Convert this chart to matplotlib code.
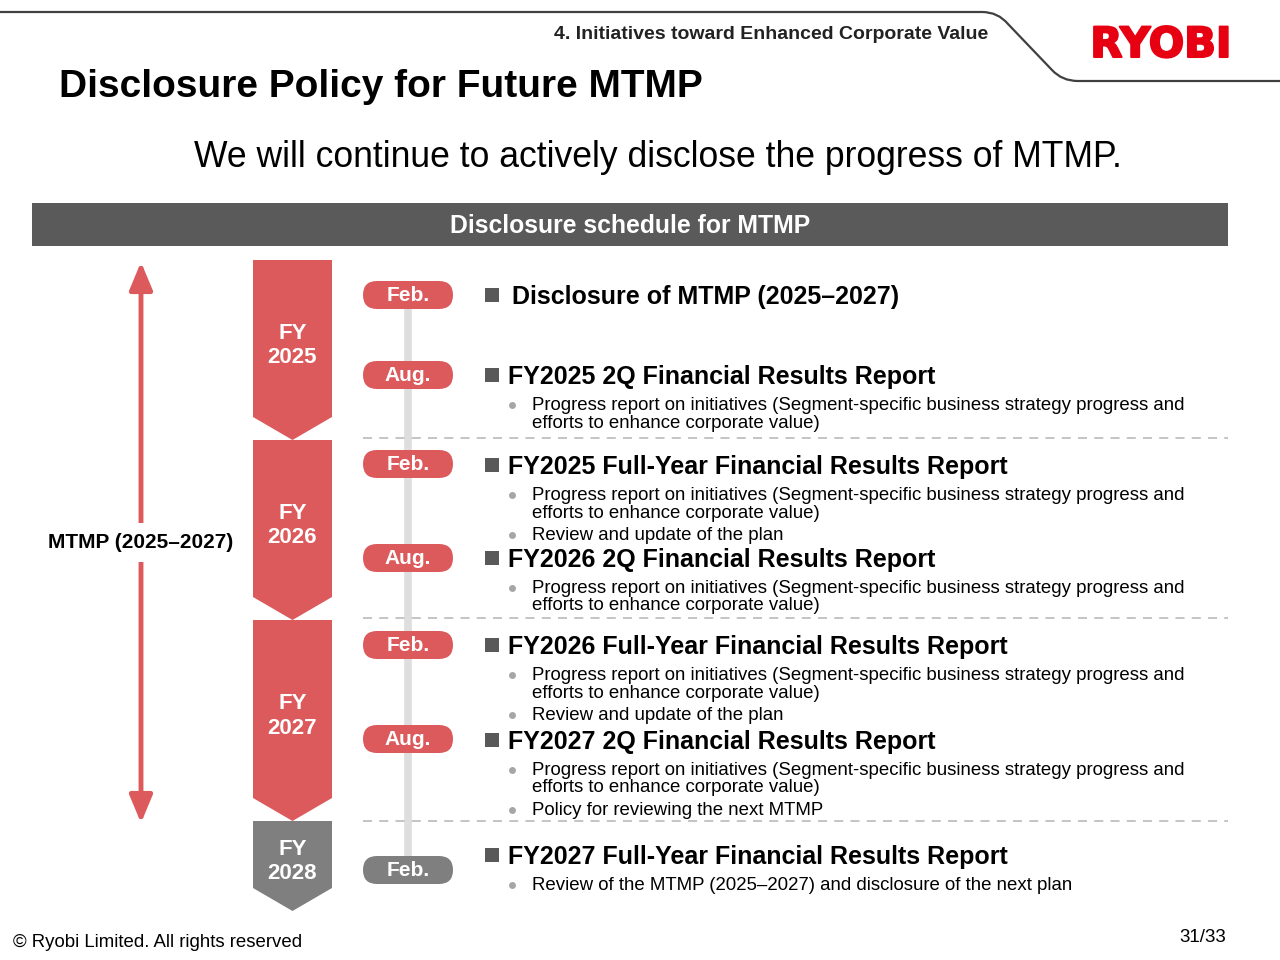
import matplotlib
matplotlib.use('Agg')
import matplotlib.pyplot as plt
import matplotlib.patheffects as pe
from matplotlib.patches import Polygon, FancyBboxPatch, Rectangle, FancyArrowPatch, PathPatch
from matplotlib.path import Path

plt.rcParams['font.family'] = ['Liberation Sans', 'DejaVu Sans']

# ---- slide content ----
section_label = '4. Initiatives toward Enhanced Corporate Value'
title = 'Disclosure Policy for Future MTMP'
subtitle = 'We will continue to actively disclose the progress of MTMP.'
bar_title = 'Disclosure schedule for MTMP'
plan_label = 'MTMP (2025\u20132027)'

fiscal_years = ['FY\n2025', 'FY\n2026', 'FY\n2027', 'FY\n2028']
in_plan = [True, True, True, False]

months = ['Feb.', 'Aug.', 'Feb.', 'Aug.', 'Feb.', 'Aug.', 'Feb.']
headings = [
    'Disclosure of MTMP (2025\u20132027)',
    'FY2025 2Q Financial Results Report',
    'FY2025 Full-Year Financial Results Report',
    'FY2026 2Q Financial Results Report',
    'FY2026 Full-Year Financial Results Report',
    'FY2027 2Q Financial Results Report',
    'FY2027 Full-Year Financial Results Report',
]
progress = ('Progress report on initiatives (Segment-specific business strategy progress and\n'
            'efforts to enhance corporate value)')
bullets = [
    [],
    [progress],
    [progress, 'Review and update of the plan'],
    [progress],
    [progress, 'Review and update of the plan'],
    [progress, 'Policy for reviewing the next MTMP'],
    ['Review of the MTMP (2025\u20132027) and disclosure of the next plan'],
]
footer = '\u00a9 Ryobi Limited. All rights reserved'
page = '31/33'

# ---- layout (pixels, y downwards) ----
RED = '#dc5a5c'
GREY = '#7f7f7f'
DARK = '#595959'
block_edges = [260, 440, 620, 821, 911]
pill_y = [295, 375, 464, 558, 645, 739, 870]
head_y = [295, 375, 465, 558, 645, 740, 855]
divider_y = [438, 618, 821]

fig = plt.figure(figsize=(12.8, 9.6), dpi=100)
ax = fig.add_axes([0, 0, 1, 1])
ax.set_xlim(0, 1280)
ax.set_ylim(960, 0)
ax.axis('off')

# top frame line
verts = [(0, 12), (982, 12), (998, 12), (1008, 24), (1052, 70), (1062, 81), (1078, 81), (1280, 81)]
codes = [Path.MOVETO, Path.LINETO, Path.CURVE3, Path.CURVE3, Path.LINETO, Path.CURVE3, Path.CURVE3, Path.LINETO]
ax.add_patch(PathPatch(Path(verts, codes), fill=False, edgecolor='#404040', lw=1.6))

ax.text(988, 39, section_label, ha='right', va='baseline', fontsize=14, fontweight='bold', color='#222222')
ax.text(1161, 57, 'RYOBI', ha='center', va='baseline', fontsize=30, fontweight='bold',
        color='#e60012', family=['DejaVu Sans'],
        path_effects=[pe.withStroke(linewidth=1.5, foreground='#e60012')])
ax.text(59, 97, title, ha='left', va='baseline', fontsize=28, fontweight='bold', color='black')
ax.text(658, 167, subtitle, ha='center', va='baseline', fontsize=25.6, color='black')

# schedule header bar
ax.add_patch(Rectangle((32, 203), 1196, 43, facecolor='#5a5a5a', edgecolor='none'))
ax.text(630, 233, bar_title, ha='center', va='baseline', fontsize=17.8, fontweight='bold', color='white')

# MTMP span arrow
ax.add_patch(FancyArrowPatch((141, 823), (141, 262), arrowstyle='<|-|>,head_length=1.2,head_width=0.5',
                             color=RED, lw=3.5, mutation_scale=14, shrinkA=0, shrinkB=0))
ax.text(141, 548, plan_label, ha='center', va='baseline', fontsize=15, fontweight='bold', color='black',
        bbox=dict(facecolor='white', edgecolor='none', pad=7))

# fiscal year chevrons
x0, x1 = 253, 332
xc = (x0 + x1) / 2
depth = 23
for i, label in enumerate(fiscal_years):
    top, bot = block_edges[i], block_edges[i + 1]
    col = RED if in_plan[i] else GREY
    ax.add_patch(Polygon([(x0, top), (x1, top), (x1, bot - depth), (xc, bot), (x0, bot - depth)],
                         closed=True, facecolor=col, edgecolor='none'))
    ax.text(xc, (top + bot - depth) / 2 + 7, label, ha='center', va='center', fontsize=16,
            fontweight='bold', color='white', linespacing=1.2)

# timeline rail
ax.plot([408, 408], [pill_y[0], pill_y[-1]], color='#dedede', lw=5.5, solid_capstyle='butt', zorder=1)

# dividers
for y in divider_y:
    ax.plot([363, 1228], [y, y], color='#bfbfbf', lw=1.3, dashes=(5, 4), zorder=1)

# events
for i, m in enumerate(months):
    py = pill_y[i]
    col = GREY if i == len(months) - 1 else RED
    ax.add_patch(FancyBboxPatch((363, py - 14), 90, 28, boxstyle='round,pad=0,rounding_size=14',
                                facecolor=col, edgecolor='none', zorder=2))
    ax.text(408, py + 6, m, ha='center', va='baseline', fontsize=15, fontweight='bold', color='white', zorder=3)

    hy = head_y[i]
    ax.add_patch(Rectangle((485, hy - 7.5), 14, 14, facecolor=DARK, edgecolor='none'))
    hx = 512 if i == 0 else 508
    ax.text(hx, hy + 9, headings[i], ha='left', va='baseline', fontsize=18, fontweight='bold', color='black')

    by = hy + 28
    for b in bullets[i]:
        ax.plot(512, by + 2, 'o', color='#a6a6a6', ms=5, mec='none')
        for line in b.split('\n'):
            ax.text(532, by + 7, line, ha='left', va='baseline', fontsize=13.4, color='black')
            by += 17.5
        by += 22.5 - 17.5

ax.text(13, 947, footer, ha='left', va='baseline', fontsize=13.4, color='black')
ax.text(1226, 942, page, ha='right', va='baseline', fontsize=13.5, color='black')

fig.savefig('out.png', dpi=100, facecolor='white')
